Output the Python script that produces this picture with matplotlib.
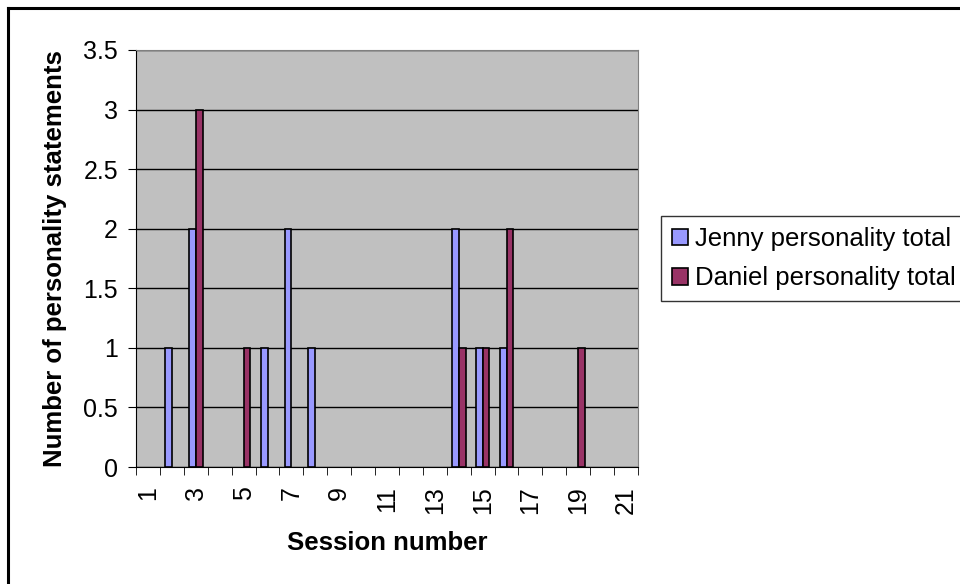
import matplotlib
matplotlib.use('Agg')
import matplotlib.pyplot as plt
from matplotlib.lines import Line2D
from matplotlib.ticker import FuncFormatter
import numpy as np

plt.rcParams['font.family'] = ['Liberation Sans', 'DejaVu Sans']

# sessions 1..21
sessions = list(range(1, 22))
jenny = [0, 1, 2, 0, 0, 1, 2, 1, 0, 0, 0, 0, 0, 2, 1, 1, 0, 0, 0, 0, 0]
daniel = [0, 0, 3, 0, 1, 0, 0, 0, 0, 0, 0, 0, 0, 1, 1, 2, 0, 0, 1, 0, 0]
series_names = ['Jenny personality total', 'Daniel personality total']
y_ticks = [0, 0.5, 1, 1.5, 2, 2.5, 3, 3.5]

fig = plt.figure(figsize=(9.6, 5.84), dpi=100)
ax = fig.add_axes([0.1417, 0.2003, 0.5229, 0.7141])
ax.set_facecolor('#C0C0C0')

x = np.arange(len(sessions))
w = 1 / 3.5
# zero bars get no outline, like excel
jenny_edges = ['black' if v else 'none' for v in jenny]
daniel_edges = ['black' if v else 'none' for v in daniel]
ax.bar(x - w / 2, jenny, width=w, color='#9999FF', edgecolor=jenny_edges, linewidth=1.2, zorder=3, label=series_names[0])
ax.bar(x + w / 2, daniel, width=w, color='#993366', edgecolor=daniel_edges, linewidth=1.2, zorder=3, label=series_names[1])

ax.set_xlim(-0.5, len(sessions) - 0.5)
ax.set_ylim(0, 3.5)
ax.set_yticks(y_ticks)
ax.yaxis.set_major_formatter(FuncFormatter(lambda v, p: '%g' % v))
ax.grid(axis='y', color='black', linewidth=1, zorder=1)

ax.set_xticks(x[::2])
ax.set_xticklabels([str(s) for s in sessions[::2]], rotation=90)
ax.set_xticks(np.arange(-0.5, len(sessions)), minor=True)
ax.tick_params(axis='x', which='major', length=0, pad=14)
ax.tick_params(axis='x', which='minor', length=6, direction='out', color='black')
ax.tick_params(axis='y', length=6, direction='out', pad=7)
ax.tick_params(labelsize=18)

for side in ['top', 'right']:
    ax.spines[side].set_color('#808080')
for side in ['left', 'bottom']:
    ax.spines[side].set_color('black')

ax.set_xlabel('Session number', fontsize=18.5, fontweight='bold', labelpad=12)
ax.set_ylabel('Number of personality statements', fontsize=18.5, fontweight='bold', labelpad=12)

leg = fig.legend(loc='upper left', bbox_to_anchor=(0.6885, 0.630), borderaxespad=0, fontsize=18.5,
                 frameon=True, fancybox=False, edgecolor='black', handlelength=0.62,
                 handleheight=0.62, handletextpad=0.3, borderpad=0.42, labelspacing=0.6)
leg.get_frame().set_linewidth(1)
for h in leg.legend_handles:
    h.set_edgecolor('black')

# chart area border (only top and left visible, rest clipped)
fig.add_artist(Line2D([8 / 960, 1], [1 - 8 / 584, 1 - 8 / 584], color='black', linewidth=2.2, transform=fig.transFigure))
fig.add_artist(Line2D([8 / 960, 8 / 960], [0, 1 - 8 / 584], color='black', linewidth=2.2, transform=fig.transFigure))

fig.savefig('out.png', dpi=100, facecolor='white')
